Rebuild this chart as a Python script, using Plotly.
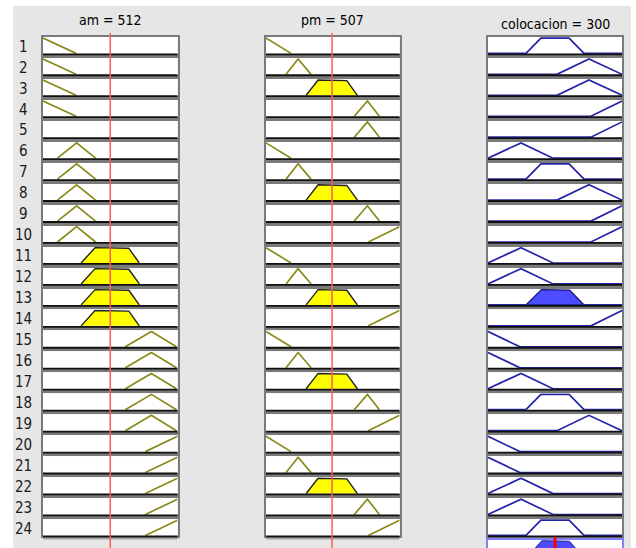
import numpy as np
import plotly.graph_objects as go

W, H = 636, 548

# ---------------- data ----------------
AM_NAME, PM_NAME, OUT_NAME = "am", "pm", "colocacion"
AM_VALUE = 512
PM_VALUE = 507
OUT_VALUE = 300
AM_RANGE = [0, 1024]
PM_RANGE = [0, 1024]
OUT_RANGE = [0, 600]

MF_LABELS = ["bajo", "medio_bajo", "medio", "medio_alto", "alto"]
AM_MF_X = [[0, 252], [110, 256, 400], [290, 390, 650, 733], [627, 825, 1016], [779, 1024]]
AM_MF_Y = [[1, 0], [0, 1, 0], [0, 1, 1, 0], [0, 1, 0], [0, 1]]
PM_MF_X = [[0, 192], [154, 246, 346], [308, 393, 616, 701], [677, 778, 870], [785, 1024]]
PM_MF_Y = [[1, 0], [0, 1, 0], [0, 1, 1, 0], [0, 1, 0], [0, 1]]
OUT_MF_X = [[0, 143], [0, 148, 291], [170, 237, 363, 430], [309, 452, 600], [461, 600]]
OUT_MF_Y = [[1, 0], [0, 1, 0], [0, 1, 1, 0], [0, 1, 0], [0, 1]]

# rule antecedents / consequent (index into MF_LABELS, -1 = none)
RULE_AM = [0, 0, 0, 0, -1, 1, 1, 1, 1, 1, 2, 2, 2, 2, 3, 3, 3, 3, 3, 4, 4, 4, 4, 4]
RULE_PM = [0, 1, 2, 3, 3, 0, 1, 2, 3, 4, 0, 1, 2, 4, 0, 1, 2, 3, 4, 0, 1, 2, 3, 4]
RULE_OUT = [2, 3, 3, 4, 4, 1, 2, 3, 4, 4, 1, 1, 2, 4, 0, 0, 1, 2, 3, 0, 0, 1, 1, 2]

# ---------------- layout geometry (pixels) ----------------
ROW_TOP0, ROW_STEP, ROW_H = 37.0, 20.96, 17.3
COLS = [(43, 177.5), (266, 399.5), (488, 622)]
AGG_TOP = 540

IN_LINE = "#8a8a1a"
IN_FILL = "#ffff00"
OUT_LINE = "#2424aa"
OUT_FILL = "#4d4dff"
FONT = "Liberation Sans Narrow, DejaVu Sans Condensed, Arial Narrow, Arial, sans-serif"


def fx(px):
    return px / W


def fy(py):
    return 1 - py / H


def mu(v, bx, by):
    return float(np.interp(v, bx, by))


fig = go.Figure()
layout = {}
shapes = []
annotations = []

axis_common = dict(showticklabels=False, ticks="", showgrid=False, zeroline=False,
                   fixedrange=True, showline=True, mirror=True,
                   linecolor="#7a7a7a", linewidth=2)

n_rules = len(RULE_AM)
k = 0
col_first_axis = {}
for r in range(n_rules):
    top = ROW_TOP0 + r * ROW_STEP
    bot = top + ROW_H
    d_am = mu(AM_VALUE, AM_MF_X[RULE_AM[r]], AM_MF_Y[RULE_AM[r]]) if RULE_AM[r] >= 0 else 1.0
    d_pm = mu(PM_VALUE, PM_MF_X[RULE_PM[r]], PM_MF_Y[RULE_PM[r]]) if RULE_PM[r] >= 0 else 1.0
    w = min(d_am, d_pm)
    specs = [
        (AM_RANGE, AM_MF_X, AM_MF_Y, RULE_AM[r], d_am, False),
        (PM_RANGE, PM_MF_X, PM_MF_Y, RULE_PM[r], d_pm, False),
        (OUT_RANGE, OUT_MF_X, OUT_MF_Y, RULE_OUT[r], w, True),
    ]
    for c, (rng, MX, MY, idx, deg, is_out) in enumerate(specs):
        k += 1
        sx = "" if k == 1 else str(k)
        col_first_axis.setdefault(c, sx)
        layout["xaxis" + sx] = dict(axis_common, domain=[fx(COLS[c][0]), fx(COLS[c][1])],
                                    range=rng, anchor="y" + sx)
        layout["yaxis" + sx] = dict(axis_common, domain=[fy(bot), fy(top)],
                                    range=[-0.06, 1.07], anchor="x" + sx)
        # dark lower edge and soft shadow under each box
        shapes.append(dict(type="line", xref="x%s domain" % sx, yref="y%s domain" % sx,
                           x0=0, x1=1, y0=-0.12, y1=-0.12,
                           line=dict(color="#a6a6a6", width=2), layer="below"))
        shapes.append(dict(type="line", xref="x%s domain" % sx, yref="y%s domain" % sx,
                           x0=0, x1=1, y0=0, y1=0, line=dict(color="#111111", width=1.8)))
        if idx < 0:
            # empty antecedent: keep the (blank) box
            fig.add_trace(go.Scatter(x=[None], y=[None], mode="lines",
                                     xaxis="x" + sx, yaxis="y" + sx, hoverinfo="skip",
                                     showlegend=False))
            continue
        bx, by = MX[idx], MY[idx]
        line_col = OUT_LINE if is_out else IN_LINE
        xs, ys = list(bx), list(by)
        if is_out:
            if xs[0] > rng[0]:
                xs, ys = [rng[0]] + xs, [mu(rng[0], bx, by)] + ys
            if xs[-1] < rng[1]:
                xs, ys = xs + [rng[1]], ys + [mu(rng[1], bx, by)]
        if deg > 0:
            dx = np.union1d(np.linspace(bx[0], bx[-1], 301), bx)
            dy = np.minimum(np.interp(dx, bx, by), deg)
            px = [dx[0]] + list(dx) + [dx[-1]]
            py = [0] + list(dy) + [0]
            fig.add_trace(go.Scatter(x=px, y=py, mode="lines", fill="toself",
                                     fillcolor=OUT_FILL if is_out else IN_FILL,
                                     line=dict(color="#1a1a80" if is_out else "#222222", width=1.4),
                                     xaxis="x" + sx, yaxis="y" + sx, hoverinfo="skip",
                                     showlegend=False))
            if is_out:
                fig.add_trace(go.Scatter(x=rng, y=[0, 0], mode="lines",
                                         line=dict(color=line_col, width=1.7),
                                         xaxis="x" + sx, yaxis="y" + sx, hoverinfo="skip",
                                         showlegend=False))
        else:
            fig.add_trace(go.Scatter(x=xs, y=ys, mode="lines",
                                     line=dict(color=line_col, width=1.7),
                                     xaxis="x" + sx, yaxis="y" + sx, hoverinfo="skip",
                                     showlegend=False))
    annotations.append(dict(x=fx(23.5), y=fy((top + bot) / 2 + 1), xref="paper", yref="paper",
                            text=str(r + 1), showarrow=False, xanchor="center", yanchor="middle",
                            font=dict(family=FONT, size=15, color="#1a1a1a")))

# aggregate output
k += 1
sa = str(k)
grid = np.union1d(np.linspace(OUT_RANGE[0], OUT_RANGE[1], 601), sum(OUT_MF_X, []))
agg = np.zeros_like(grid, dtype=float)
for r in range(n_rules):
    d_am = mu(AM_VALUE, AM_MF_X[RULE_AM[r]], AM_MF_Y[RULE_AM[r]]) if RULE_AM[r] >= 0 else 1.0
    d_pm = mu(PM_VALUE, PM_MF_X[RULE_PM[r]], PM_MF_Y[RULE_PM[r]]) if RULE_PM[r] >= 0 else 1.0
    w = min(d_am, d_pm)
    o = RULE_OUT[r]
    agg = np.maximum(agg, np.minimum(np.interp(grid, OUT_MF_X[o], OUT_MF_Y[o]), w))
layout["xaxis" + sa] = dict(axis_common, domain=[fx(COLS[2][0]), fx(COLS[2][1])],
                            range=OUT_RANGE, anchor="y" + sa, linecolor="#8080ff")
layout["yaxis" + sa] = dict(axis_common, domain=[0, fy(AGG_TOP)], range=[0.6, 1.04],
                            anchor="x" + sa, linecolor="#8080ff")
fig.add_trace(go.Scatter(x=list(grid), y=list(agg), mode="lines", fill="tozeroy",
                         fillcolor=OUT_FILL, line=dict(color="#2020a0", width=1),
                         xaxis="x" + sa, yaxis="y" + sa, hoverinfo="skip", showlegend=False))

# red input / output markers
shapes.append(dict(type="line", xref="x" + col_first_axis[0], yref="paper",
                   x0=AM_VALUE, x1=AM_VALUE, y0=0, y1=fy(33),
                   line=dict(color="#ff5a5a", width=1.5)))
shapes.append(dict(type="line", xref="x" + col_first_axis[1], yref="paper",
                   x0=PM_VALUE, x1=PM_VALUE, y0=0, y1=fy(33),
                   line=dict(color="#ff5a5a", width=1.5)))
shapes.append(dict(type="line", xref="x" + sa, yref="paper",
                   x0=OUT_VALUE, x1=OUT_VALUE, y0=0, y1=fy(537),
                   line=dict(color="#ff0000", width=3)))

# white margins around the grey panel
for (x0, y0, x1, y1) in [(0, 0, W, 6), (0, 0, 13, H), (631, 0, W, H)]:
    shapes.append(dict(type="rect", xref="paper", yref="paper", x0=fx(x0), x1=fx(x1),
                       y0=fy(y1), y1=fy(y0), fillcolor="white", line=dict(width=0),
                       layer="below"))

titles = [(f"{AM_NAME} = {AM_VALUE}", 110, 19.5), (f"{PM_NAME} = {PM_VALUE}", 332.5, 19.5),
          (f"{OUT_NAME} = {OUT_VALUE}", 555, 24)]
for t, x, y in titles:
    annotations.append(dict(x=fx(x), y=fy(y), xref="paper", yref="paper", text=t,
                            showarrow=False, xanchor="center", yanchor="middle",
                            font=dict(family=FONT, size=14, color="#000000")))

fig.update_layout(width=W, height=H, margin=dict(l=0, r=0, t=0, b=0),
                  paper_bgcolor="#e6e6e6", plot_bgcolor="white",
                  shapes=shapes, annotations=annotations, showlegend=False, **layout)

fig.write_html("out.html", config={"displayModeBar": False},
               post_script="document.body.style.margin='0px';"
                           "document.body.style.overflow='hidden';")
